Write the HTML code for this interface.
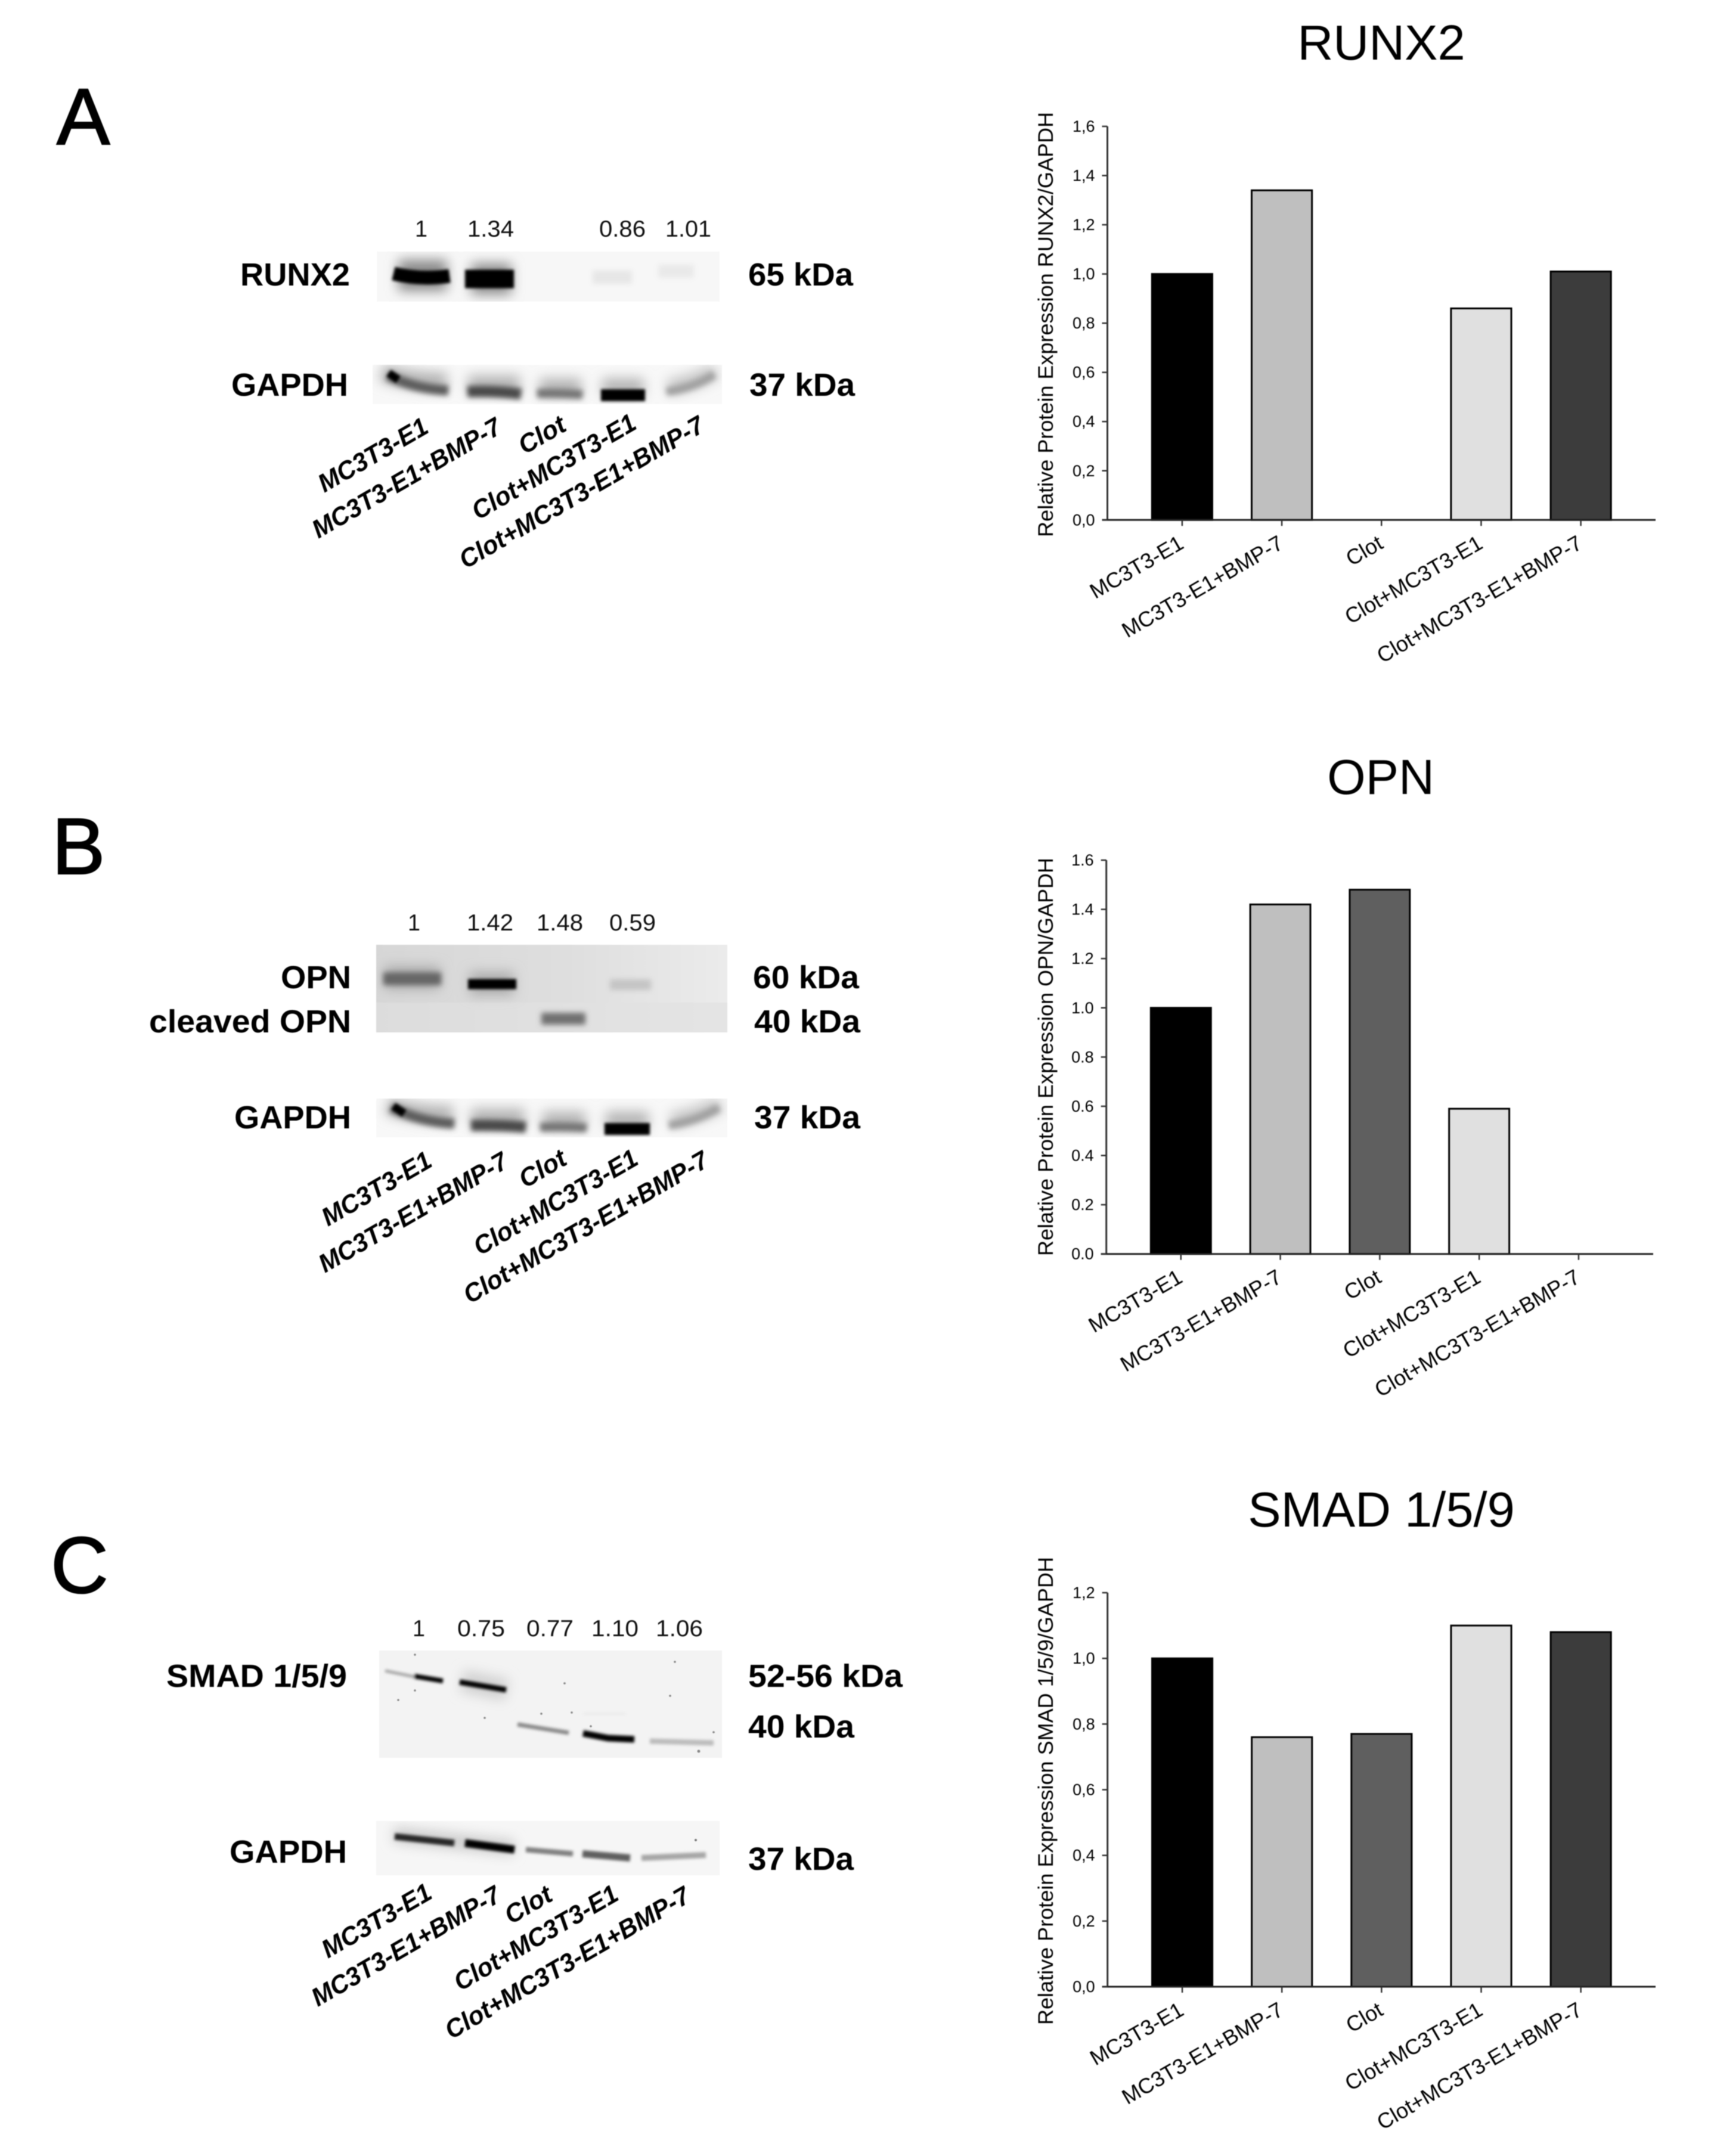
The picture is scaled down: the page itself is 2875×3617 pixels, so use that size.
<!DOCTYPE html>
<html lang="en">
<head>
<meta charset="utf-8">
<title>Western blots and relative protein expression</title>
<style>
html,body{margin:0;padding:0;background:#fff;}
svg{display:block;filter:blur(.7px);}
text{font-family:"Liberation Sans",Arial,sans-serif;fill:#000;}
.b{font-weight:700;font-size:54px;}
.v{font-size:39px;fill:#111;}
.r{font-weight:700;font-style:italic;font-size:43px;}
.p{font-size:134px;stroke:#000;stroke-width:2px;}
</style>
</head>
<body>
<svg id="fig" xmlns="http://www.w3.org/2000/svg" width="2875" height="3617" viewBox="0 0 2875 3617">
<defs>
<filter id="b2" filterUnits="userSpaceOnUse" x="0" y="0" width="2875" height="3617"><feGaussianBlur stdDeviation="2.5"/></filter>
<filter id="b4" filterUnits="userSpaceOnUse" x="0" y="0" width="2875" height="3617"><feGaussianBlur stdDeviation="4.5"/></filter>
<filter id="b9" filterUnits="userSpaceOnUse" x="0" y="0" width="2875" height="3617"><feGaussianBlur stdDeviation="10"/></filter>
<clipPath id="c1"><rect x="632" y="422" width="575" height="84"/></clipPath>
<clipPath id="c2"><rect x="625" y="612" width="586" height="66"/></clipPath>
<clipPath id="c3"><rect x="631" y="1585" width="589" height="147"/></clipPath>
<clipPath id="c4"><rect x="631" y="1843" width="589" height="65"/></clipPath>
<clipPath id="c5"><rect x="636" y="2769" width="575" height="180"/></clipPath>
<clipPath id="c6"><rect x="631" y="3055" width="576" height="91"/></clipPath>
<linearGradient id="opnBg" x1="0" x2="1" y1="0" y2="0"><stop offset="0" stop-color="#d6d6d6"/><stop offset="0.55" stop-color="#dedede"/><stop offset="1" stop-color="#ebebeb"/></linearGradient>
<linearGradient id="opnBg2" x1="0" x2="1" y1="0" y2="0"><stop offset="0" stop-color="#dcdcdc"/><stop offset="1" stop-color="#e4e4e4"/></linearGradient>
</defs>

<!-- PANEL A -->
<text class="p" x="95" y="242">A</text>
<g>
<text class="v" x="696" y="397" textLength="21" lengthAdjust="spacingAndGlyphs">1</text>
<text class="v" x="784" y="397" textLength="78" lengthAdjust="spacingAndGlyphs">1.34</text>
<text class="v" x="1005" y="397" textLength="78" lengthAdjust="spacingAndGlyphs">0.86</text>
<text class="v" x="1116" y="397" textLength="77" lengthAdjust="spacingAndGlyphs">1.01</text>
</g>
<text class="b" x="403" y="479" textLength="184" lengthAdjust="spacingAndGlyphs">RUNX2</text>
<text class="b" x="1255" y="479" textLength="176" lengthAdjust="spacingAndGlyphs">65 kDa</text>
<text class="b" x="388" y="664" textLength="196" lengthAdjust="spacingAndGlyphs">GAPDH</text>
<text class="b" x="1257" y="664" textLength="177" lengthAdjust="spacingAndGlyphs">37 kDa</text>

<g clip-path="url(#c1)">
<rect x="632" y="422" width="575" height="84" fill="#f7f7f7"/>
<g filter="url(#b9)"><path d="M668 462H750M790 468H858" stroke="#8a8a8a" stroke-width="52" fill="none"/></g>
<g filter="url(#b2)">
<path d="M660 459Q705 470 754 463" stroke="#000" stroke-width="23" fill="none"/>
<path d="M780 468H862" stroke="#000" stroke-width="31" fill="none"/>
</g>
<g filter="url(#b4)">
<path d="M994 465H1060" stroke="#e6e6e6" stroke-width="22" fill="none"/>
<path d="M1104 455H1164" stroke="#e9e9e9" stroke-width="22" fill="none"/>
</g>
</g>
<g clip-path="url(#c2)">
<rect x="625" y="612" width="586" height="66" fill="#f8f8f8"/>
<g filter="url(#b9)">
<path d="M640 625Q690 640 750 640M785 645H872M905 650H975M1010 650H1080" stroke="#b4b4b4" stroke-width="30" fill="none"/>
<path d="M1120 650Q1170 640 1200 622" stroke="#c4c4c4" stroke-width="26" fill="none"/>
</g>
<g filter="url(#b4)">
<path d="M650 630Q695 652 752 655" stroke="#5c5c5c" stroke-width="17" fill="none"/>
<path d="M784 657Q830 655 874 661" stroke="#484848" stroke-width="19" fill="none"/>
<path d="M901 660Q940 659 977 662" stroke="#747474" stroke-width="15" fill="none"/>
<path d="M1118 657Q1165 650 1198 628" stroke="#a0a0a0" stroke-width="14" fill="none"/>
</g>
<g filter="url(#b2)">
<path d="M652 626L668 637" stroke="#000" stroke-width="13" fill="none"/>
<path d="M1008 663H1082" stroke="#000" stroke-width="20" fill="none"/>
</g>
</g>
<g>
<text class="r" transform="translate(544 827) rotate(-30)" textLength="205" lengthAdjust="spacingAndGlyphs">MC3T3-E1</text>
<text class="r" transform="translate(534 904) rotate(-30)" textLength="358" lengthAdjust="spacingAndGlyphs">MC3T3-E1+BMP-7</text>
<text class="r" transform="translate(880 763) rotate(-30)" textLength="84" lengthAdjust="spacingAndGlyphs">Clot</text>
<text class="r" transform="translate(802 873) rotate(-30)" textLength="310" lengthAdjust="spacingAndGlyphs">Clot+MC3T3-E1</text>
<text class="r" transform="translate(781 955) rotate(-30)" textLength="466" lengthAdjust="spacingAndGlyphs">Clot+MC3T3-E1+BMP-7</text>
</g>

<!-- PANEL B -->
<text class="p" x="87" y="1466">B</text>
<g>
<text class="v" x="684" y="1561" textLength="21" lengthAdjust="spacingAndGlyphs">1</text>
<text class="v" x="783" y="1561" textLength="78" lengthAdjust="spacingAndGlyphs">1.42</text>
<text class="v" x="900" y="1561" textLength="78" lengthAdjust="spacingAndGlyphs">1.48</text>
<text class="v" x="1022" y="1561" textLength="78" lengthAdjust="spacingAndGlyphs">0.59</text>
</g>
<text class="b" x="471" y="1658" textLength="118" lengthAdjust="spacingAndGlyphs">OPN</text>
<text class="b" x="250" y="1732" textLength="339" lengthAdjust="spacingAndGlyphs">cleaved OPN</text>
<text class="b" x="1263" y="1658" textLength="178" lengthAdjust="spacingAndGlyphs">60 kDa</text>
<text class="b" x="1265" y="1732" textLength="178" lengthAdjust="spacingAndGlyphs">40 kDa</text>
<text class="b" x="393" y="1893" textLength="196" lengthAdjust="spacingAndGlyphs">GAPDH</text>
<text class="b" x="1265" y="1893" textLength="178" lengthAdjust="spacingAndGlyphs">37 kDa</text>

<g clip-path="url(#c3)">
<rect x="631" y="1585" width="589" height="97" fill="url(#opnBg)"/>
<rect x="631" y="1682" width="589" height="50" fill="url(#opnBg2)"/>
<g filter="url(#b9)"><path d="M645 1640H738M788 1650H862" stroke="#aaa" stroke-width="38" fill="none"/></g>
<g filter="url(#b4)">
<path d="M643 1642H740" stroke="#666" stroke-width="21" fill="none"/>
<path d="M1023 1652H1092" stroke="#c4c4c4" stroke-width="18" fill="none"/>
<path d="M908 1709H982" stroke="#707070" stroke-width="20" fill="none"/>
</g>
<g filter="url(#b2)"><path d="M785 1651H866" stroke="#000" stroke-width="17" fill="none"/></g>
</g>
<g clip-path="url(#c4)">
<rect x="631" y="1843" width="589" height="65" fill="#f8f8f8"/>
<g filter="url(#b9)">
<path d="M650 1855Q700 1870 760 1870M790 1875H880M910 1880H982M1016 1880H1088" stroke="#b4b4b4" stroke-width="30" fill="none"/>
<path d="M1125 1880Q1175 1870 1208 1852" stroke="#c4c4c4" stroke-width="26" fill="none"/>
</g>
<g filter="url(#b4)">
<path d="M656 1858Q705 1882 762 1885" stroke="#5c5c5c" stroke-width="17" fill="none"/>
<path d="M790 1888Q838 1887 882 1891" stroke="#484848" stroke-width="19" fill="none"/>
<path d="M906 1891Q945 1889 984 1892" stroke="#747474" stroke-width="15" fill="none"/>
<path d="M1122 1888Q1170 1880 1206 1858" stroke="#a0a0a0" stroke-width="14" fill="none"/>
</g>
<g filter="url(#b2)">
<path d="M660 1856L678 1868" stroke="#000" stroke-width="13" fill="none"/>
<path d="M1014 1894H1090" stroke="#000" stroke-width="20" fill="none"/>
</g>
</g>
<g>
<text class="r" transform="translate(550 2058) rotate(-30)" textLength="205" lengthAdjust="spacingAndGlyphs">MC3T3-E1</text>
<text class="r" transform="translate(545 2136) rotate(-30)" textLength="358" lengthAdjust="spacingAndGlyphs">MC3T3-E1+BMP-7</text>
<text class="r" transform="translate(881 1994) rotate(-30)" textLength="84" lengthAdjust="spacingAndGlyphs">Clot</text>
<text class="r" transform="translate(805 2107) rotate(-30)" textLength="310" lengthAdjust="spacingAndGlyphs">Clot+MC3T3-E1</text>
<text class="r" transform="translate(788 2188) rotate(-30)" textLength="466" lengthAdjust="spacingAndGlyphs">Clot+MC3T3-E1+BMP-7</text>
</g>

<!-- PANEL C -->
<text class="p" x="85" y="2672">C</text>
<g>
<text class="v" x="692" y="2745" textLength="21" lengthAdjust="spacingAndGlyphs">1</text>
<text class="v" x="767" y="2745" textLength="80" lengthAdjust="spacingAndGlyphs">0.75</text>
<text class="v" x="883" y="2745" textLength="79" lengthAdjust="spacingAndGlyphs">0.77</text>
<text class="v" x="992" y="2745" textLength="79" lengthAdjust="spacingAndGlyphs">1.10</text>
<text class="v" x="1100" y="2745" textLength="79" lengthAdjust="spacingAndGlyphs">1.06</text>
</g>
<text class="b" x="279" y="2830" textLength="303" lengthAdjust="spacingAndGlyphs">SMAD 1/5/9</text>
<text class="b" x="1255" y="2830" textLength="259" lengthAdjust="spacingAndGlyphs">52-56 kDa</text>
<text class="b" x="1255" y="2915" textLength="178" lengthAdjust="spacingAndGlyphs">40 kDa</text>
<text class="b" x="385" y="3125" textLength="197" lengthAdjust="spacingAndGlyphs">GAPDH</text>
<text class="b" x="1255" y="3137" textLength="177" lengthAdjust="spacingAndGlyphs">37 kDa</text>

<g clip-path="url(#c5)">
<rect x="636" y="2769" width="575" height="180" fill="#f3f3f3"/>
<g filter="url(#b9)"><path d="M775 2820L850 2835" stroke="#d0d0d0" stroke-width="36" fill="none"/></g>
<g filter="url(#b2)">
<path d="M646 2803L695 2813" stroke="#a5a5a5" stroke-width="5" fill="none"/>
<path d="M695 2812L743 2820" stroke="#000" stroke-width="8" fill="none"/>
<path d="M771 2822L849 2835" stroke="#000" stroke-width="9" fill="none"/>
<path d="M868 2893L954 2907" stroke="#888" stroke-width="7" fill="none"/>
<path d="M978 2908L1020 2916L1064 2918" stroke="#000" stroke-width="11" fill="none"/>
<path d="M1090 2921L1197 2924" stroke="#bcbcbc" stroke-width="9" fill="none"/>
<path d="M978 2875H1050" stroke="#ebebeb" stroke-width="4" fill="none"/>
</g>
<g fill="#888">
<circle cx="696" cy="2776" r="1.8"/><circle cx="696" cy="2836" r="1.8"/><circle cx="668" cy="2852" r="1.8"/><circle cx="947" cy="2824" r="1.8"/>
<circle cx="813" cy="2882" r="1.8"/><circle cx="959" cy="2873" r="1.8"/><circle cx="908" cy="2875" r="1.8"/><circle cx="991" cy="2896" r="1.8"/>
<circle cx="1132" cy="2788" r="1.8"/><circle cx="1124" cy="2845" r="1.8"/><circle cx="1197" cy="2906" r="1.8"/><circle cx="1172" cy="2938" r="2.5"/>
</g>
</g>
<g clip-path="url(#c6)">
<rect x="631" y="3055" width="576" height="91" fill="#f6f6f6"/>
<g filter="url(#b9)"><path d="M660 3078L862 3100" stroke="#ccc" stroke-width="26" fill="none"/></g>
<g filter="url(#b2)">
<path d="M662 3081L762 3092" stroke="#262626" stroke-width="11" fill="none"/>
<path d="M780 3092L863 3103" stroke="#000" stroke-width="13" fill="none"/>
<path d="M882 3103L961 3110" stroke="#7f7f7f" stroke-width="9" fill="none"/>
<path d="M977 3110L1057 3117" stroke="#5e5e5e" stroke-width="12" fill="none"/>
<path d="M1076 3117L1184 3112" stroke="#a6a6a6" stroke-width="10" fill="none"/>
</g>
<circle cx="1167" cy="3087" r="2" fill="#777"/>
</g>
<g>
<text class="r" transform="translate(550 3286) rotate(-30)" textLength="205" lengthAdjust="spacingAndGlyphs">MC3T3-E1</text>
<text class="r" transform="translate(533 3367) rotate(-30)" textLength="358" lengthAdjust="spacingAndGlyphs">MC3T3-E1+BMP-7</text>
<text class="r" transform="translate(857 3229) rotate(-30)" textLength="84" lengthAdjust="spacingAndGlyphs">Clot</text>
<text class="r" transform="translate(772 3341) rotate(-30)" textLength="310" lengthAdjust="spacingAndGlyphs">Clot+MC3T3-E1</text>
<text class="r" transform="translate(757 3422) rotate(-30)" textLength="466" lengthAdjust="spacingAndGlyphs">Clot+MC3T3-E1+BMP-7</text>
</g>

<g id="charts"></g>
</svg>

<script>
const categories = ['MC3T3-E1', 'MC3T3-E1+BMP-7', 'Clot', 'Clot+MC3T3-E1', 'Clot+MC3T3-E1+BMP-7'];
const runx2Values = [1.0, 1.34, 0, 0.86, 1.01];
const opnValues = [1.0, 1.42, 1.48, 0.59, 0];
const smadValues = [1.0, 0.76, 0.77, 1.10, 1.08];
const runx2Ticks = [0, 0.2, 0.4, 0.6, 0.8, 1.0, 1.2, 1.4, 1.6];
const opnTicks = [0, 0.2, 0.4, 0.6, 0.8, 1.0, 1.2, 1.4, 1.6];
const smadTicks = [0, 0.2, 0.4, 0.6, 0.8, 1.0, 1.2];
const barFills = ['#000000', '#bfbfbf', '#5f5f5f', '#e0e0e0', '#3c3c3c'];

const NS = 'http://www.w3.org/2000/svg';
const root = document.getElementById('charts');

function mk(tag, parent) {
  const el = document.createElementNS(NS, tag);
  parent.appendChild(el);
  return el;
}
function set(el, props) {
  for (const k in props) el.setAttribute(k, props[k]);
  return el;
}

function drawChart(c) {
  const g = mk('g', root);
  
  

  const yMax = c.ticks[c.ticks.length - 1];
  const yScale = v => c.y0 - (v / yMax) * (c.y0 - c.yTop);
  const band = (c.xRight - c.xAxis) / 5.5;
  const xScale = i => c.xAxis + (i + 0.75) * band;
  const barW = band * 0.605;

  const title = mk('text', g);
  
  
  set(title, {x: c.titleX, y: c.titleY, 'text-anchor': 'middle', 'font-size': 83});
  title.textContent = c.title;

  const yl = mk('text', g);
  
  
  set(yl, {transform: 'translate(1766 ' + c.labelBottom + ') rotate(-90)', 'font-size': 35,
           textLength: c.labelLen, lengthAdjust: 'spacingAndGlyphs', fill: '#111'});
  yl.textContent = c.yLabel;

  c.values.forEach((v, i) => {
    const bar = mk('rect', g);
    
    
    set(bar, {x: xScale(i) - barW / 2, y: yScale(v), width: barW, height: c.y0 - yScale(v),
              fill: barFills[i], stroke: '#000', 'stroke-width': 3});
  });

  const yAxis = mk('line', g);
  
  
  set(yAxis, {x1: c.xAxis, x2: c.xAxis, y1: c.yTop, y2: c.y0, stroke: '#333', 'stroke-width': 3});

  const xAxis = mk('line', g);
  
  
  set(xAxis, {x1: c.xAxis - 9, x2: c.xRight, y1: c.y0, y2: c.y0, stroke: '#222', 'stroke-width': 3});

  c.ticks.forEach(t => {
    const tick = mk('line', g);
    
    
    set(tick, {x1: c.xAxis - 9, x2: c.xAxis, y1: yScale(t), y2: yScale(t), stroke: '#333', 'stroke-width': 2.5});
    const lab = mk('text', g);
    
    
    set(lab, {x: c.xAxis - 21, y: yScale(t) + 9, 'text-anchor': 'end', 'font-size': 27, fill: '#111'});
    lab.textContent = t.toFixed(1).replace('.', c.decimal);
  });

  categories.forEach((name, i) => {
    const tick = mk('line', g);
    
    
    set(tick, {x1: xScale(i), x2: xScale(i), y1: c.y0, y2: c.y0 + 10, stroke: '#333', 'stroke-width': 2.5});
    const lab = mk('text', g);
    
    
    set(lab, {transform: 'translate(' + (xScale(i) + 5) + ' ' + (c.y0 + 46) + ') rotate(-30)',
              'text-anchor': 'end', 'font-size': 36, fill: '#111'});
    lab.textContent = name;
  });
}

drawChart({key: 'runx2', title: 'RUNX2', titleX: 2317, titleY: 100,
  yLabel: 'Relative Protein Expression RUNX2/GAPDH', labelBottom: 901, labelLen: 713,
  values: runx2Values, ticks: runx2Ticks, decimal: ',',
  xAxis: 1857.5, xRight: 2777, yTop: 212, y0: 872.3});
drawChart({key: 'opn', title: 'OPN', titleX: 2316, titleY: 1332,
  yLabel: 'Relative Protein Expression OPN/GAPDH', labelBottom: 2107, labelLen: 668,
  values: opnValues, ticks: opnTicks, decimal: '.',
  xAxis: 1855.7, xRight: 2773, yTop: 1443, y0: 2103.7});
drawChart({key: 'smad', title: 'SMAD 1/5/9', titleX: 2317, titleY: 2561,
  yLabel: 'Relative Protein Expression SMAD 1/5/9/GAPDH', labelBottom: 3397, labelLen: 785,
  values: smadValues, ticks: smadTicks, decimal: ',',
  xAxis: 1857.7, xRight: 2777, yTop: 2672, y0: 3333});
</script>
</body>
</html>
